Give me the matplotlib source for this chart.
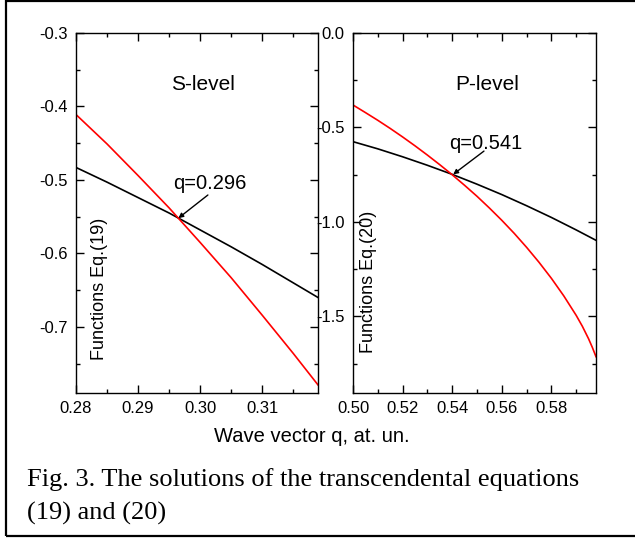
import matplotlib
matplotlib.use('Agg')
import matplotlib.pyplot as plt
from matplotlib.ticker import MultipleLocator, FormatStrFormatter
from matplotlib.patches import Rectangle

plt.rcParams['font.family'] = ['Liberation Sans', 'DejaVu Sans']
plt.rcParams['axes.unicode_minus'] = False

# S-level, Eq.(19)
q_s = [0.280, 0.285, 0.290, 0.295, 0.300, 0.305, 0.310, 0.315, 0.319]
s_black = [-0.483, -0.503, -0.524, -0.545, -0.568, -0.591, -0.615, -0.640, -0.660]
s_red = [-0.411, -0.451, -0.494, -0.538, -0.585, -0.633, -0.684, -0.736, -0.779]
s_root = (0.2965, -0.552)

# P-level, Eq.(20)
q_p_black = [0.500, 0.510, 0.520, 0.530, 0.540, 0.550, 0.560, 0.570, 0.580, 0.590, 0.598]
p_black = [-0.575, -0.613, -0.655, -0.700, -0.748, -0.800, -0.855, -0.914, -0.976, -1.042, -1.097]
q_p_red = [0.500, 0.505, 0.510, 0.515, 0.520, 0.525, 0.530, 0.535, 0.540, 0.545,
           0.550, 0.555, 0.560, 0.565, 0.570, 0.575, 0.580, 0.585, 0.590, 0.5925,
           0.595, 0.5965, 0.598]
p_red = [-0.381, -0.421, -0.462, -0.505, -0.550, -0.597, -0.646, -0.697, -0.750, -0.806,
         -0.864, -0.926, -0.991, -1.060, -1.134, -1.213, -1.298, -1.391, -1.494, -1.552,
         -1.618, -1.663, -1.713]
p_root = (0.5404, -0.748)

fig = plt.figure(figsize=(6.35, 5.4), dpi=100)

ax1 = fig.add_axes([76/635, 147/540, 242/635, 360/540])
ax2 = fig.add_axes([353/635, 147/540, 243/635, 360/540])


def style_axis(ax):
    for sp in ax.spines.values():
        sp.set_linewidth(1.0)
    ax.tick_params(which='both', direction='in', top=True, right=True, width=1.0, labelsize=12)
    ax.tick_params(which='major', length=5.5, pad=6)
    ax.tick_params(which='minor', length=3)


ax1.plot(q_s, s_black, color='black', lw=1.2)
ax1.plot(q_s, s_red, color='#ff0000', lw=1.2)
ax1.set_xlim(0.28, 0.319)
ax1.set_ylim(-0.79, -0.3)
ax1.xaxis.set_major_locator(MultipleLocator(0.01))
ax1.xaxis.set_minor_locator(MultipleLocator(0.005))
ax1.yaxis.set_major_locator(MultipleLocator(0.1))
ax1.yaxis.set_minor_locator(MultipleLocator(0.05))
ax1.xaxis.set_major_formatter(FormatStrFormatter('%.2f'))
ax1.yaxis.set_major_formatter(FormatStrFormatter('%.1f'))
style_axis(ax1)
ax1.text(0.525, 0.856, 'S-level', transform=ax1.transAxes, ha='center', va='center', fontsize=15)
ax1.text(0.554, 0.583, 'q=0.296', transform=ax1.transAxes, ha='center', va='center', fontsize=14.5)
ax1.annotate('', xy=s_root, xycoords='data', xytext=(0.545, 0.55), textcoords='axes fraction',
             arrowprops=dict(arrowstyle='-|>', color='black', lw=1.0, mutation_scale=7,
                             shrinkA=0, shrinkB=0))
ax1.text(0.099, 0.289, 'Functions Eq.(19)', transform=ax1.transAxes, rotation=90,
         ha='center', va='center', fontsize=13)

ax2.plot(q_p_black, p_black, color='black', lw=1.2)
ax2.plot(q_p_red, p_red, color='#ff0000', lw=1.2)
ax2.set_xlim(0.50, 0.598)
ax2.set_ylim(-1.905, 0.0)
ax2.xaxis.set_major_locator(MultipleLocator(0.02))
ax2.xaxis.set_minor_locator(MultipleLocator(0.01))
ax2.yaxis.set_major_locator(MultipleLocator(0.5))
ax2.yaxis.set_minor_locator(MultipleLocator(0.25))
ax2.xaxis.set_major_formatter(FormatStrFormatter('%.2f'))
ax2.yaxis.set_major_formatter(FormatStrFormatter('%.1f'))
style_axis(ax2)
ax2.text(0.551, 0.856, 'P-level', transform=ax2.transAxes, ha='center', va='center', fontsize=15)
ax2.text(0.547, 0.694, 'q=0.541', transform=ax2.transAxes, ha='center', va='center', fontsize=14.5)
ax2.annotate('', xy=p_root, xycoords='data', xytext=(0.539, 0.672), textcoords='axes fraction',
             arrowprops=dict(arrowstyle='-|>', color='black', lw=1.0, mutation_scale=7,
                             shrinkA=0, shrinkB=0))
ax2.text(0.062, 0.308, 'Functions Eq.(20)', transform=ax2.transAxes, rotation=90,
         ha='center', va='center', fontsize=13)

fig.text(312/635, 1 - 437/540, 'Wave vector q, at. un.', ha='center', va='center', fontsize=14.5)

# caption in serif font
fig.text(27/635, 1 - 480/540, 'Fig. 3. The solutions of the transcendental equations',
         ha='left', va='center', fontsize=19, family=['Liberation Serif', 'DejaVu Serif'])
fig.text(27/635, 1 - 513/540, '(19) and (20)',
         ha='left', va='center', fontsize=19, family=['Liberation Serif', 'DejaVu Serif'])

# outer frame
fig.patches.append(Rectangle((6/635, 4/540), 1.0, 535/540, transform=fig.transFigure,
                             fill=False, edgecolor='black', lw=1.6))

fig.savefig('out.png', dpi=100)
